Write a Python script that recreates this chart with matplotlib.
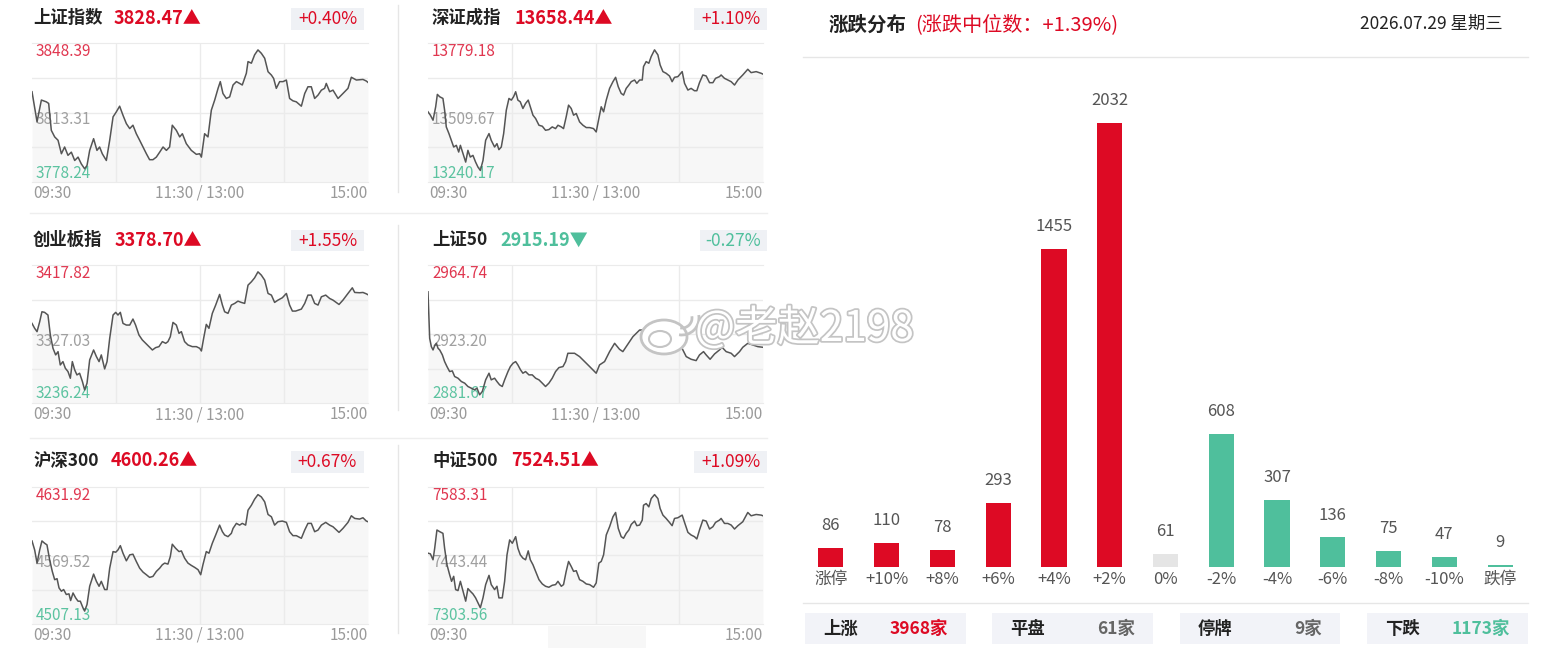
import matplotlib
matplotlib.use('Agg')
import matplotlib.pyplot as plt
import matplotlib.patheffects as pe
from matplotlib.patches import Rectangle, Ellipse, Arc

plt.rcParams['font.family'] = ['Noto Sans CJK SC', 'DejaVu Sans']

W, H = 1552, 656

# ---- 指数分时数据（分钟：09:30 起的交易分钟，0-240） ----
index_names = ['上证指数', '深证成指', '创业板指', '上证50', '沪深300', '中证500']
index_close = [3828.47, 13658.44, 3378.70, 2915.19, 4600.26, 7524.51]
index_pct = ['+0.40%', '+1.10%', '+1.55%', '-0.27%', '+0.67%', '+1.09%']
axis_high = [3848.39, 13779.18, 3417.82, 2964.74, 4631.92, 7583.31]
axis_mid = [3813.31, 13509.67, 3327.03, 2923.20, 4569.52, 7443.44]
axis_low = [3778.24, 13240.17, 3236.24, 2881.67, 4507.13, 7303.56]
time_labels = ['09:30', '11:30 / 13:00', '15:00']

sh_t = [0, 3.6, 6.7, 10.2, 11.9, 13.8, 16.2, 18.6, 21, 23.3, 25.7, 28.1, 30.5, 32.9, 35.2,
        37.6, 39.3, 41.2, 44, 46.4, 48.3, 50.2, 53.1, 55.5, 57.9, 60.2, 62.6, 65, 67.4, 69.8,
        72.1, 74.5, 76.9, 79.3, 81.7, 84, 86.4, 88.8, 91.2, 93.6, 96, 98.3, 100.2, 103.1, 105.5,
        107.4, 110.2, 113.8, 117.4, 119.8, 121, 123.3, 125.7, 128.1, 130.5, 132.9, 134.5, 136.4,
        138.8, 141.2, 143.6, 146, 148.3, 150.2, 153.1, 154.3, 156.7, 159, 161.4, 163.8, 166.2,
        168.6, 171, 172.6, 174.5, 176.9, 179.3, 181.7, 184, 186.4, 188.8, 192.4, 194.8, 197.1,
        199.5, 201.9, 204.3, 206.7, 209, 210.2, 212.6, 215, 218.6, 222.1, 225.7, 228.1, 231.7,
        236.4, 238.8, 240]
sh_v = [3823.8, 3808.6, 3819.6, 3818.7, 3817.9, 3804.3, 3801.0, 3799.3, 3792.5, 3795.9,
        3791.7, 3793.3, 3789.1, 3790.8, 3787.4, 3784.9, 3786.6, 3794.2, 3800.1, 3794.2,
        3795.9, 3792.5, 3789.1, 3799.3, 3811.1, 3813.6, 3816.5, 3811.9, 3807.7, 3805.2,
        3806.9, 3802.6, 3799.3, 3795.9, 3792.5, 3789.5, 3789.5, 3790.8, 3793.3, 3795.9,
        3794.2, 3795.9, 3806.9, 3804.3, 3801.0, 3802.6, 3797.6, 3794.2, 3792.2, 3792.5,
        3790.8, 3802.6, 3801.0, 3814.5, 3819.6, 3825.5, 3828.9, 3822.9, 3820.4, 3821.2,
        3827.2, 3828.9, 3828.0, 3827.2, 3833.1, 3839.0, 3838.2, 3842.4, 3844.9, 3843.2,
        3840.7, 3833.9, 3832.2, 3830.5, 3825.5, 3828.9, 3828.9, 3829.7, 3820.4, 3819.2,
        3818.7, 3816.5, 3822.9, 3826.3, 3826.3, 3820.4, 3822.1, 3824.6, 3825.5, 3828.0,
        3823.8, 3824.6, 3820.4, 3822.9, 3825.5, 3831.1, 3829.7, 3830.0, 3829.2, 3828.5]

sz_t = [0, 1.7, 3.6, 5.5, 6.7, 8.4, 10.7, 11.9, 13.1, 15, 16.7, 18.4, 20.3, 22, 23.2, 25.1,
        27, 28.6, 30.3, 32.2, 34.1, 35.8, 37.5, 39.4, 41.3, 43.7, 45.3, 47.7, 49.4, 50.8, 52.5,
        54.2, 56.1, 58, 59.7, 61.3, 62.8, 64.4, 66.1, 68, 69.9, 71.8, 73.3, 75.2, 77.1, 79.5,
        81.9, 84.2, 86.6, 89, 91.4, 93.1, 95.5, 97.1, 99, 100.7, 102.6, 104.3, 106.2, 108.6,
        111, 113.4, 115.8, 118.6, 120.5, 122.4, 124.1, 125.8, 127.7, 130.1, 132.5, 134.4,
        136.3, 138.4, 140.1, 142, 143.9, 145.6, 148, 149.6, 151.6, 153.5, 154.4, 156.3, 158.2,
        159.9, 162.3, 164.7, 166.3, 168.3, 170.6, 173, 174.9, 176.6, 179, 182.1, 183.8, 186.2,
        188.5, 190.9, 192.6, 194.5, 196.9, 199.3, 201.7, 204.1, 206, 208.8, 210, 212.4, 214.8,
        217.2, 219.6, 222, 225.5, 229.1, 231.5, 235.1, 238.7, 240]
sz_v = [13512.3, 13499.3, 13479.8, 13531.8, 13579.8, 13570.7, 13564.2, 13518.8, 13453.8, 13427.9,
        13401.9, 13375.9, 13382.4, 13356.4, 13382.4, 13349.9, 13317.4, 13362.9, 13336.9, 13343.4,
        13317.4, 13298.0, 13285.0, 13323.9, 13401.9, 13427.9, 13401.9, 13375.9, 13388.9, 13365.5,
        13375.9, 13427.9, 13518.8, 13564.2, 13557.7, 13570.7, 13590.2, 13557.7, 13551.2, 13525.3,
        13544.7, 13557.7, 13531.8, 13499.3, 13486.3, 13460.3, 13456.4, 13440.8, 13443.4, 13453.8,
        13447.3, 13460.3, 13453.8, 13447.3, 13492.8, 13538.2, 13525.3, 13499.3, 13505.8, 13473.3,
        13460.3, 13451.2, 13451.2, 13447.3, 13434.3, 13486.3, 13531.8, 13512.3, 13557.7, 13603.2,
        13629.2, 13646.1, 13609.7, 13583.7, 13577.2, 13603.2, 13616.2, 13629.2, 13635.7, 13622.7,
        13635.7, 13635.7, 13687.7, 13707.1, 13700.6, 13726.6, 13752.6, 13733.1, 13694.2, 13668.2,
        13661.7, 13651.3, 13629.2, 13646.1, 13648.7, 13668.2, 13622.7, 13596.7, 13603.2, 13594.1,
        13594.1, 13625.3, 13655.2, 13651.3, 13625.3, 13625.3, 13642.2, 13648.7, 13655.2, 13642.2,
        13635.7, 13629.2, 13616.2, 13635.7, 13655.2, 13677.3, 13664.3, 13668.2, 13661.7, 13658.4]

cy_t = [0, 1.9, 3.6, 5.5, 7.1, 9.0, 11.4, 13.1, 15.0, 16.9, 18.6, 20.2, 22.1, 23.8, 25.7, 27.4,
        28.8, 30.5, 32.1, 34.0, 36.0, 37.6, 39.3, 41.2, 44.0, 46.0, 47.9, 49.5, 51.9, 53.6, 55.5,
        57.9, 59.8, 61.4, 63.1, 65.0, 67.4, 69.8, 72.1, 74.0, 76.4, 78.8, 81.2, 83.6, 86.0, 88.3,
        90.7, 93.1, 95.5, 97.1, 98.8, 100.7, 103.1, 105.0, 106.7, 109.0, 111.4, 114.5, 117.4,
        119.8, 121.0, 122.6, 124.5, 126.4, 128.8, 131.2, 134.0, 136.0, 137.6, 140.0, 142.4,
        144.8, 147.1, 149.5, 151.9, 154.3, 156.7, 159.0, 161.4, 163.8, 166.2, 168.6, 171.0,
        173.3, 175.7, 178.8, 181.7, 184.0, 186.0, 188.3, 192.4, 194.8, 197.1, 199.5, 201.9,
        204.3, 206.7, 209.8, 212.6, 215.0, 219.3, 222.1, 225.7, 228.8, 230.5, 234.0, 236.4,
        238.8, 240]
cy_v = [3341.0, 3334.5, 3330.1, 3343.2, 3356.3, 3355.5, 3352.0, 3325.7, 3308.2, 3299.5,
        3303.8, 3286.3, 3290.7, 3282.0, 3277.6, 3268.8, 3290.7, 3279.8, 3273.2, 3275.4,
        3264.5, 3253.5, 3262.3, 3292.9, 3306.0, 3297.3, 3290.7, 3299.5, 3281.1, 3290.7,
        3321.3, 3352.0, 3355.5, 3352.0, 3355.5, 3341.0, 3338.8, 3338.8, 3346.7, 3338.8,
        3325.7, 3319.2, 3314.8, 3310.4, 3306.0, 3309.1, 3310.4, 3317.0, 3314.8, 3317.0,
        3323.5, 3342.3, 3338.8, 3327.9, 3330.1, 3317.0, 3312.6, 3310.4, 3310.4, 3308.2,
        3304.7, 3321.3, 3339.7, 3334.5, 3354.2, 3365.1, 3379.1, 3365.1, 3356.3, 3354.2,
        3365.1, 3367.3, 3370.3, 3368.6, 3367.3, 3391.3, 3395.7, 3400.9, 3408.8, 3404.5,
        3397.9, 3380.4, 3378.2, 3368.6, 3371.6, 3374.7, 3380.4, 3365.1, 3357.2, 3357.2,
        3359.8, 3367.3, 3378.2, 3378.2, 3367.3, 3365.1, 3376.0, 3378.2, 3373.8, 3371.6,
        3365.9, 3371.6, 3380.4, 3387.8, 3381.7, 3381.3, 3381.7, 3379.9, 3378.7]

sz50_t = [0, 1.2, 2.4, 3.6, 4.8, 6.0, 7.2, 8.4, 10.3, 11.9, 13.6, 15.5, 17.4, 19.1, 21.5, 23.9,
          26.3, 28.6, 31.0, 33.4, 35.1, 37.0, 38.9, 41.3, 43.7, 45.3, 47.7, 49.4, 51.3, 53.2,
          54.9, 57.3, 59.0, 60.9, 62.8, 64.4, 66.3, 68.0, 69.9, 72.3, 74.7, 77.1, 79.5, 81.9,
          84.2, 86.6, 89.0, 91.4, 93.8, 96.7, 98.6, 100.2, 102.6, 105.0, 108.6, 115.8, 120.5,
          122.9, 126.5, 130.1, 133.7, 137.2, 139.6, 142.0, 144.4, 146.8, 151.6, 155.1, 158.7,
          162.3, 164.7, 167.1, 170.6, 174.2, 177.8, 181.4, 185.0, 188.5, 192.1, 194.5, 197.4,
          199.3, 202.1, 205.3, 208.8, 210.7, 213.6, 217.2, 219.6, 223.2, 225.5, 229.1, 232.7,
          236.3, 240]
sz50_v = [2948.6, 2920.6, 2915.6, 2913.6, 2916.2, 2917.6, 2914.6, 2913.6, 2910.6, 2906.6,
          2903.6, 2900.6, 2901.0, 2897.6, 2896.6, 2894.6, 2893.6, 2891.6, 2890.6, 2889.6,
          2890.6, 2886.6, 2888.6, 2895.6, 2899.6, 2895.6, 2896.6, 2894.6, 2892.6, 2891.6,
          2895.6, 2900.6, 2903.6, 2905.6, 2906.6, 2904.6, 2901.6, 2899.6, 2900.6, 2898.6,
          2898.6, 2896.6, 2895.6, 2893.6, 2891.6, 2893.6, 2896.6, 2900.6, 2903.0, 2903.6,
          2906.6, 2911.6, 2911.6, 2911.6, 2909.6, 2903.6, 2899.6, 2904.6, 2906.6, 2912.6,
          2917.6, 2914.0, 2912.6, 2915.6, 2918.6, 2921.6, 2925.6, 2925.6, 2926.6, 2925.6,
          2922.6, 2919.6, 2917.6, 2916.0, 2915.6, 2915.6, 2909.6, 2908.0, 2907.2, 2910.6,
          2912.6, 2910.6, 2908.0, 2911.2, 2913.6, 2915.2, 2912.6, 2911.6, 2909.6, 2912.6,
          2915.2, 2917.6, 2916.6, 2915.6, 2915.2]

hs300_t = [0, 1.9, 3.6, 5.5, 7.1, 9.0, 10.7, 12.6, 14.5, 16.2, 17.9, 19.3, 21.0, 22.6, 24.5,
           26.4, 27.6, 29.3, 31.2, 32.9, 34.5, 36.4, 37.6, 39.3, 41.2, 44.0, 46.0, 47.9, 49.5,
           51.9, 53.6, 55.5, 57.9, 59.8, 61.4, 63.1, 65.0, 67.4, 69.8, 72.1, 74.5, 76.9, 79.3,
           81.7, 84.0, 86.4, 88.8, 91.2, 93.1, 94.8, 97.1, 98.8, 100.2, 102.6, 105.0, 106.7,
           109.0, 111.4, 113.8, 116.2, 118.6, 120.5, 122.1, 124.5, 126.4, 128.8, 131.2, 134.0,
           136.0, 137.6, 140.0, 142.4, 143.6, 146.0, 148.3, 150.2, 152.6, 154.3, 156.7, 159.0,
           161.4, 163.8, 166.2, 168.6, 171.0, 173.3, 175.7, 178.8, 181.7, 184.0, 186.4, 188.8,
           192.4, 194.8, 197.1, 199.5, 201.9, 204.3, 206.7, 209.8, 212.6, 215.0, 219.3, 222.1,
           225.7, 228.1, 230.5, 234.0, 236.4, 238.8, 240]
hs300_v = [4582.8, 4574.6, 4562.6, 4574.6, 4582.8, 4580.7, 4579.2, 4565.6, 4555.0, 4547.5,
           4548.4, 4540.0, 4537.0, 4538.5, 4534.0, 4534.6, 4528.5, 4535.4, 4530.9, 4527.9,
           4527.9, 4521.9, 4518.9, 4524.9, 4541.5, 4552.6, 4546.0, 4541.5, 4546.0, 4538.5,
           4538.5, 4558.0, 4573.1, 4572.5, 4574.6, 4578.5, 4571.6, 4564.7, 4570.1, 4570.7,
           4564.1, 4558.0, 4554.4, 4552.0, 4549.6, 4550.5, 4555.0, 4558.0, 4561.1, 4562.6,
           4561.7, 4568.6, 4579.8, 4576.1, 4573.1, 4573.7, 4567.1, 4562.6, 4560.5, 4558.7,
           4556.6, 4552.0, 4561.1, 4573.1, 4571.6, 4580.7, 4588.2, 4597.2, 4591.2, 4588.2,
           4586.7, 4589.7, 4594.2, 4598.8, 4597.2, 4598.8, 4597.2, 4610.8, 4615.3, 4620.8,
           4625.0, 4622.9, 4618.4, 4606.9, 4604.8, 4597.2, 4600.3, 4600.9, 4599.7, 4591.2,
           4587.6, 4587.6, 4585.2, 4592.7, 4598.8, 4598.8, 4591.2, 4592.7, 4597.2, 4599.7,
           4597.2, 4595.7, 4590.6, 4594.2, 4599.7, 4605.7, 4603.3, 4602.7, 4603.9, 4600.9,
           4600.3]

zz500_t = [0, 1.7, 3.6, 4.8, 6.4, 8.4, 10.7, 11.9, 13.6, 15.5, 16.9, 18.4, 19.8, 21.5, 23.2,
           25.1, 27.0, 28.6, 30.3, 32.2, 34.1, 35.8, 37.5, 39.4, 41.3, 43.7, 45.3, 47.7, 49.4,
           50.8, 53.2, 54.9, 56.6, 58.5, 60.4, 62.8, 64.4, 66.1, 68.0, 69.9, 71.8, 73.3, 75.2,
           77.1, 79.5, 81.9, 84.2, 86.6, 89.0, 91.4, 93.1, 95.5, 97.1, 99.0, 100.7, 102.6, 104.3,
           106.2, 108.6, 111.0, 113.4, 115.8, 118.6, 120.5, 122.4, 124.1, 125.8, 127.7, 130.1,
           132.5, 134.4, 136.3, 138.4, 140.1, 142.0, 143.9, 145.6, 148.0, 149.6, 151.6, 153.5,
           154.4, 156.3, 158.2, 159.9, 162.3, 164.7, 166.3, 168.3, 170.6, 173.0, 174.9, 176.6,
           179.0, 182.1, 183.8, 186.2, 188.5, 190.9, 192.6, 194.5, 196.9, 199.3, 201.7, 204.1,
           206.0, 208.8, 210.0, 212.4, 214.8, 217.2, 219.6, 222.0, 225.5, 229.1, 231.5, 235.1,
           238.7, 240]
zz500_v = [7448.2, 7446.8, 7434.7, 7458.3, 7495.5, 7492.1, 7488.7, 7458.3, 7424.5, 7404.2,
           7390.7, 7400.9, 7373.8, 7371.8, 7390.7, 7370.5, 7350.2, 7375.9, 7370.5, 7365.0,
           7356.9, 7346.8, 7336.7, 7356.9, 7384.0, 7402.9, 7384.0, 7373.8, 7380.6, 7356.9,
           7356.9, 7390.7, 7444.8, 7475.2, 7468.4, 7481.9, 7458.3, 7444.8, 7438.0, 7434.7,
           7452.9, 7434.7, 7424.5, 7411.0, 7394.1, 7385.3, 7380.6, 7378.6, 7382.6, 7384.0,
           7390.7, 7380.6, 7384.0, 7411.0, 7431.3, 7421.1, 7411.0, 7412.4, 7394.1, 7390.7,
           7385.3, 7384.0, 7378.6, 7387.4, 7427.9, 7431.3, 7444.8, 7485.3, 7502.2, 7522.5,
           7531.3, 7498.8, 7481.9, 7478.6, 7488.7, 7495.5, 7506.9, 7513.7, 7504.3, 7505.6,
           7515.7, 7546.1, 7549.5, 7542.8, 7559.7, 7567.8, 7559.7, 7539.4, 7525.9, 7519.1,
           7511.0, 7504.3, 7519.1, 7520.5, 7525.9, 7511.0, 7490.7, 7485.3, 7481.9, 7477.2,
           7495.5, 7515.7, 7513.7, 7497.5, 7502.2, 7511.0, 7515.7, 7519.1, 7508.9, 7508.9,
           7505.6, 7497.5, 7504.3, 7512.3, 7531.3, 7524.5, 7527.2, 7525.9, 7524.5]

series_t = [sh_t, sz_t, cy_t, sz50_t, hs300_t, zz500_t]
series_v = [sh_v, sz_v, cy_v, sz50_v, hs300_v, zz500_v]

# ---- 涨跌分布数据 ----
dist_labels = ['涨停', '+10%', '+8%', '+6%', '+4%', '+2%', '0%',
               '-2%', '-4%', '-6%', '-8%', '-10%', '跌停']
dist_counts = [86, 110, 78, 293, 1455, 2032, 61, 608, 307, 136, 75, 47, 9]
median_pct = '+1.39%'
date_text = '2026.07.29 星期三'
summary_labels = ['上涨', '平盘', '停牌', '下跌']
summary_counts = [3968, 61, 9, 1173]

RED = '#dd0a24'
RED_LIGHT = '#e0364f'
GREEN = '#4fbf9c'
GREY_BAR = '#e5e5e5'
TXT = '#222222'

fig = plt.figure(figsize=(W / 100, H / 100), dpi=100)
fig.patch.set_facecolor('white')


def rect(x0, y0, x1, y1):
    return [x0 / W, 1 - y1 / H, (x1 - x0) / W, (y1 - y0) / H]


# background layer in pixel coordinates
bg = fig.add_axes([0, 0, 1, 1], zorder=0)
bg.set_xlim(0, W)
bg.set_ylim(H, 0)
bg.axis('off')

col_x = [(32, 368), (428, 763)]
row_y = [(43, 182), (265, 403), (487, 624)]
title_y = [18, 240, 461]
name_x = [33, 432]
value_x = [114, 514, 115, 500, 111, 511]
pct_box = [(291, 364), (694, 767), (291, 364), (700, 767), (291, 364), (694, 767)]
pct_box_y = [(8, 30), (230, 251), (451, 473)]

# separators
for (ya, yb) in [(5, 192), (225, 410), (445, 633)]:
    bg.plot([398, 398], [ya, yb], color='#e6e6e6', lw=1)
for yy in [213, 438]:
    bg.plot([30, 767], [yy, yy], color='#eeeeee', lw=1)

for i in range(6):
    r, c = divmod(i, 2)
    x0, x1 = col_x[c]
    y0, y1 = row_y[r]
    up = not index_pct[i].startswith('-')
    col = RED if up else GREEN

    # title row
    bg.text(name_x[c], title_y[r], index_names[i], fontsize=12.5, fontweight='bold',
            color=TXT, ha='left', va='center')
    bg.text(value_x[i], title_y[r], f'{index_close[i]:.2f}' + ('▲' if up else '▼'),
            fontsize=13, fontweight='bold', color=col, ha='left', va='center')
    bx0, bx1 = pct_box[i]
    by0, by1 = pct_box_y[r]
    bg.add_patch(Rectangle((bx0, by0), bx1 - bx0, by1 - by0, fc='#eff1f5', ec='none'))
    bg.text((bx0 + bx1) / 2, (by0 + by1) / 2, index_pct[i], fontsize=12.5, color=col,
            ha='center', va='center')

    # time labels
    bg.text(x0 + 1, y1 + 11.5, time_labels[0], fontsize=11, color='#9a9a9a', ha='left', va='center')
    if i != 5:
        bg.text((x0 + x1) / 2, y1 + 11.5, time_labels[1], fontsize=11, color='#9a9a9a',
                ha='center', va='center')
    bg.text(x1, y1 + 11.5, time_labels[2], fontsize=11, color='#9a9a9a', ha='right', va='center')

    ax = fig.add_axes(rect(x0, y0, x1, y1), zorder=2)
    ax.set_facecolor('none')
    lo, hi = axis_low[i], axis_high[i]
    ax.fill_between(series_t[i], series_v[i], lo, color='#f6f6f6', alpha=0.8, lw=0, zorder=1)
    ax.plot(series_t[i], series_v[i], color='#555555', lw=1.1, zorder=3)
    ax.set_xlim(0, 240)
    ax.set_ylim(lo, hi)
    ax.set_xticks([60, 120, 180])
    ax.set_yticks([lo + (hi - lo) / 4, axis_mid[i], hi - (hi - lo) / 4])
    ax.grid(color='#ebebeb', lw=1, zorder=0)
    ax.tick_params(length=0, labelbottom=False, labelleft=False)
    for s in ['left', 'right']:
        ax.spines[s].set_visible(False)
    for s in ['top', 'bottom']:
        ax.spines[s].set_color('#ebebeb')

    # value labels: above the fill, under the line
    ym = (y0 + y1) / 2
    for yy, val, lc in [(y0 + 8, axis_high[i], RED_LIGHT), (ym + 7, axis_mid[i], '#a0a0a0'),
                        (y1 - 9, axis_low[i], '#5cc3a0')]:
        ax.text(x0 + 4, yy, f'{val:.2f}', fontsize=11, color=lc, ha='left', va='center',
                transform=bg.transData, zorder=2)

# 中证500 middle label covered by a pale box
bg.add_patch(Rectangle((548, 626), 98, 22, fc='#f7f7f7', ec='none'))

# ---- right panel ----
bg.text(829, 25, '涨跌分布', fontsize=14, fontweight='bold', color=TXT, ha='left', va='center')
bg.text(915, 25, f'(涨跌中位数：{median_pct})', fontsize=14.5, color=RED,
        ha='left', va='center')
bg.text(1503, 24, date_text, fontsize=12.5, color=TXT, ha='right', va='center')
bg.plot([803, 1528], [57, 57], color='#e6e6e6', lw=1)
bg.plot([803, 1528], [603, 603], color='#e6e6e6', lw=1)

bar_colors = [RED] * 6 + [GREY_BAR] + [GREEN] * 6
bax = fig.add_axes(rect(803, 70, 1528, 567), zorder=2)
bax.set_facecolor('none')
xs = list(range(len(dist_labels)))
bax.bar(xs, dist_counts, width=0.45, color=bar_colors)
bax.set_xlim(-0.5, len(dist_labels) - 0.5)
bax.set_ylim(0, max(dist_counts) * 497 / 444)
bax.set_xticks(xs)
bax.set_xticklabels(dist_labels, fontsize=12, color='#555555')
bax.set_yticks([])
bax.tick_params(axis='x', length=0, pad=3)
for s in bax.spines.values():
    s.set_visible(False)
for x, v in zip(xs, dist_counts):
    bax.annotate(str(v), (x, v), xytext=(0, 16), textcoords='offset points',
                 ha='center', va='center', fontsize=12, color='#555555')

box_x = [(805, 966), (992, 1153), (1180, 1340), (1367, 1528)]
sum_colors = [RED, '#666666', '#666666', GREEN]
for (bx0, bx1), lab, cnt, sc in zip(box_x, summary_labels, summary_counts, sum_colors):
    bg.add_patch(Rectangle((bx0, 613), bx1 - bx0, 31, fc='#f2f3f8', ec='none'))
    bg.text(bx0 + 18, 628.5, lab, fontsize=12.5, fontweight='bold', color=TXT,
            ha='left', va='center')
    bg.text(bx1 - 18, 628.5, f'{cnt}家', fontsize=12.5, fontweight='bold', color=sc,
            ha='right', va='center')

# ---- watermark ----
top = fig.add_axes([0, 0, 1, 1], zorder=10)
top.set_xlim(0, W)
top.set_ylim(H, 0)
top.axis('off')
top.set_facecolor('none')
stroke = [pe.withStroke(linewidth=2.5, foreground='#c4c4c4')]
top.text(695, 329, '@老赵2198', fontsize=30.5, color='white', ha='left', va='center',
         path_effects=stroke)
top.add_patch(Ellipse((664, 337), 46, 34, fc='white', ec='#c4c4c4', lw=2))
top.add_patch(Ellipse((660, 339), 22, 16, fc='white', ec='#c4c4c4', lw=1.5))
top.add_patch(Arc((682, 318), 20, 20, theta1=-10, theta2=100, ec='#c4c4c4', lw=2))
top.add_patch(Arc((682, 318), 34, 34, theta1=-10, theta2=100, ec='#c4c4c4', lw=2))

fig.savefig('out.png', dpi=100, facecolor='white')
